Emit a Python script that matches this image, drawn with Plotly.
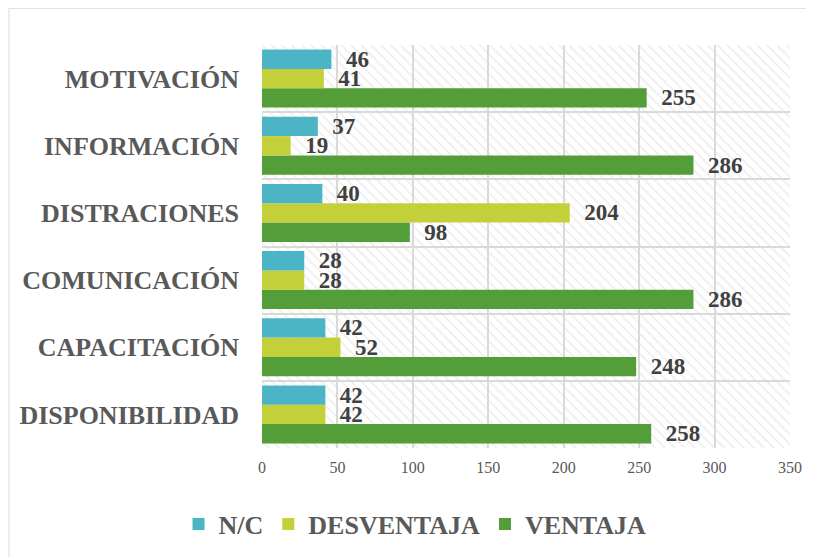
import plotly.graph_objects as go

categories = ["DISPONIBILIDAD", "CAPACITACIÓN", "COMUNICACIÓN", "DISTRACIONES", "INFORMACIÓN", "MOTIVACIÓN"]
nc = [42, 42, 28, 40, 37, 46]
desventaja = [42, 52, 28, 204, 19, 41]
ventaja = [258, 248, 286, 98, 286, 255]
x_max = 350
x_ticks = [0, 50, 100, 150, 200, 250, 300, 350]

FONT = "Liberation Serif"
LABEL_COLOR = "#404040"
AXIS_COLOR = "#595959"

fig = go.Figure()

# hatched plot-area background
fig.add_trace(go.Bar(
    y=categories, x=[x_max] * len(categories), orientation="h",
    width=1.0, marker=dict(color="rgba(0,0,0,0)", line_width=0,
                           pattern=dict(shape="\\", fgcolor="#d9d9d9", bgcolor="rgba(0,0,0,0)",
                                        size=7, solidity=0.22)),
    hoverinfo="skip", showlegend=False,
))

series = [
    ("VENTAJA", ventaja, "#549E39", -0.432),
    ("DESVENTAJA", desventaja, "#C4D03A", -0.144),
    ("N/C", nc, "#4BB5C5", 0.144),
]
for name, vals, color, off in series:
    fig.add_trace(go.Bar(
        y=categories, x=vals, name=name, orientation="h",
        width=0.288, offset=off,
        marker=dict(color=color, line_width=0),
        text=vals, texttemplate="  %{text}", textposition="outside",
        textfont=dict(family=FONT, size=23, color=LABEL_COLOR, weight="bold"),
        constraintext="none", cliponaxis=False,
    ))

# page body has an 8px offset, compensate
OFF = 8
PW, PH = 528, 395  # plot area size in px
fig.update_layout(
    barmode="overlay",
    width=814 - OFF, height=557 - OFF,
    margin=dict(l=262 - OFF, r=24, t=45 - OFF, b=117 - OFF),
    paper_bgcolor="white", plot_bgcolor="white",
    font=dict(family=FONT),
    xaxis=dict(range=[0, x_max], tickvals=x_ticks, showgrid=True, gridcolor="#d9d9d9",
               gridwidth=1.5, zeroline=False, showline=False,
               tickfont=dict(family=FONT, size=16, color=AXIS_COLOR), ticklabelstandoff=8),
    yaxis=dict(type="category", categoryorder="array", categoryarray=categories,
               tickson="boundaries", showgrid=True, gridcolor="#d9d9d9", gridwidth=1.5,
               ticks="", tickfont=dict(family=FONT, size=26, color=AXIS_COLOR, weight="bold"),
               ticklabelstandoff=22),
    legend=dict(orientation="h", traceorder="reversed", xref="container", x=0.505, xanchor="center",
                yref="container", y=0.06, yanchor="middle",
                font=dict(family=FONT, size=26, color=AXIS_COLOR, weight="bold"),
                itemwidth=30),
    showlegend=True,
    shapes=[dict(type="rect", xref="paper", yref="paper",
                 x0=(9 - 262) / PW, x1=(809 - 262) / PW, y0=(440 - 552) / PH, y1=(440 - 9) / PH,
                 line=dict(color="#d9d9d9", width=1), fillcolor="rgba(0,0,0,0)", layer="below")],
)

fig.write_html("out.html")
